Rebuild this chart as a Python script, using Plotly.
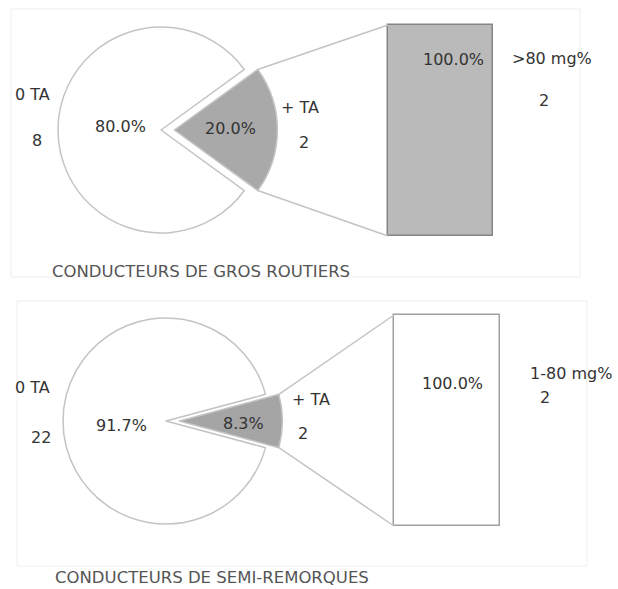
import numpy as np
import plotly.graph_objects as go

W, H = 618, 589

# ---- data -------------------------------------------------------------
panel_titles = ["CONDUCTEURS DE GROS ROUTIERS", "CONDUCTEURS DE SEMI-REMORQUES"]
pie_labels = ["0 TA", "+ TA"]
count_no_ta = [8, 22]        # drivers without alcohol (0 TA)
count_ta = [2, 2]            # drivers with alcohol (+ TA)
bar_labels = [">80 mg%", "1-80 mg%"]
bar_counts = [2, 2]          # breakdown of the "+ TA" group

# ---- geometry / style (pixels) ---------------------------------------
pie_center = [(161, 130), (166, 421)]
pie_radius = 103
pull = 0.13
bar_box = [(388, 25, 493, 236), (394, 315, 500, 526)]
frame_box = [(11, 9, 580, 277), (17, 301, 587, 566)]
title_pos = [(50, 272), (53, 577)]
fill_ta = ["#a9a9a9", "#a5a5a5"]
fill_bar = ["#bababa", "#ffffff"]
bar_edge = ["#858585", "#a0a0a0"]
line_col = "#c4c4c4"
txt_col = "#333333"
FONT = "DejaVu Sans"
PAD = 6  # spare pixels around each bar subplot so the outline is not clipped


def px(x):
    return x / W


def py(y):
    return 1 - y / H


def pct(v):
    return f"{v * 100:.1f}%"


fig = go.Figure()
shapes = []
annotations = []


def ann(x, y, text, size=16, color=txt_col, xanchor="center"):
    annotations.append(dict(
        x=px(x), y=py(y), xref="paper", yref="paper", text=text,
        showarrow=False, xanchor=xanchor, yanchor="middle",
        font=dict(family=FONT, size=size, color=color)))


for i in range(2):
    cx, cy = pie_center[i]
    total = count_no_ta[i] + count_ta[i]
    f = count_ta[i] / total
    r_box = pie_radius * (1 + pull)

    # pie: "+ TA" slice first, centred on 3 o'clock and pulled out
    fig.add_trace(go.Pie(
        values=[count_ta[i], count_no_ta[i]],
        labels=[pie_labels[1], pie_labels[0]],
        sort=False, direction="clockwise",
        rotation=90 - 180 * f,
        pull=[pull, 0],
        marker=dict(colors=[fill_ta[i], "#ffffff"],
                    line=dict(color=line_col, width=1.5)),
        textinfo="none", hoverinfo="label+value", showlegend=False,
        domain=dict(x=[px(cx - r_box), px(cx + r_box)],
                    y=[py(cy + r_box), py(cy - r_box)]),
    ))

    # bar of the "+ TA" breakdown
    x0, y0, x1, y1 = bar_box[i]
    dx = PAD / (x1 - x0)
    dy = PAD / (y1 - y0)
    xa = "x" if i == 0 else f"x{i + 1}"
    ya = "y" if i == 0 else f"y{i + 1}"
    fig.add_trace(go.Bar(
        x=[0], y=[bar_counts[i] / count_ta[i]], width=1,
        marker=dict(color=fill_bar[i], line=dict(color=bar_edge[i], width=1.5)),
        xaxis=xa, yaxis=ya, cliponaxis=False, showlegend=False,
        hoverinfo="y"))
    ax_common = dict(visible=False, fixedrange=True)
    fig.update_layout(**{
        ("xaxis" if i == 0 else f"xaxis{i + 1}"): dict(
            domain=[px(x0 - PAD), px(x1 + PAD)], range=[-0.5 - dx, 0.5 + dx],
            anchor=ya, **ax_common),
        ("yaxis" if i == 0 else f"yaxis{i + 1}"): dict(
            domain=[py(y1 + PAD), py(y0 - PAD)], range=[-dy, 1 + dy],
            anchor=xa, **ax_common),
    })

    # connector lines from the pulled slice to the bar
    apex_x = cx + pull * pie_radius
    a = np.pi * f
    ex = apex_x + pie_radius * np.cos(a)
    for sgn, by in ((-1, y0), (1, y1)):
        ey = cy + sgn * pie_radius * np.sin(a)
        shapes.append(dict(type="line", xref="paper", yref="paper",
                           x0=px(ex), y0=py(ey), x1=px(x0), y1=py(by),
                           line=dict(color=line_col, width=1.5)))

    # panel frame
    fx0, fy0, fx1, fy1 = frame_box[i]
    shapes.append(dict(type="rect", xref="paper", yref="paper",
                       x0=px(fx0), y0=py(fy0), x1=px(fx1), y1=py(fy1),
                       line=dict(color="#eeeeee", width=1), layer="below"))

# ---- text labels --------------------------------------------------------
label_pos = [
    dict(no=(32, 95), no_n=(37, 140), no_p=(120, 126), ta_p=(230, 128),
         ta=(300, 108), ta_n=(304, 143), bar_p=(453, 60), bar_l=(552, 59), bar_n=(544, 100)),
    dict(no=(32, 387), no_n=(41, 437), no_p=(122, 425), ta_p=(244, 423),
         ta=(311, 399), ta_n=(303, 433), bar_p=(452, 383), bar_l=(571, 373), bar_n=(545, 397)),
]
for i in range(2):
    p = label_pos[i]
    total = count_no_ta[i] + count_ta[i]
    ann(*p["no"], pie_labels[0])
    ann(*p["no_n"], str(count_no_ta[i]))
    ann(*p["no_p"], pct(count_no_ta[i] / total))
    ann(*p["ta_p"], pct(count_ta[i] / total))
    ann(*p["ta"], pie_labels[1])
    ann(*p["ta_n"], str(count_ta[i]))
    ann(*p["bar_p"], pct(bar_counts[i] / count_ta[i]))
    ann(*p["bar_l"], bar_labels[i])
    ann(*p["bar_n"], str(bar_counts[i]))
    ann(*title_pos[i], panel_titles[i], size=16.5, color="#555555", xanchor="left")

fig.update_layout(
    width=W, height=H, margin=dict(l=0, r=0, t=0, b=0),
    paper_bgcolor="white", plot_bgcolor="rgba(0,0,0,0)",
    shapes=shapes, annotations=annotations, bargap=0,
)

fig.write_html("out.html")
